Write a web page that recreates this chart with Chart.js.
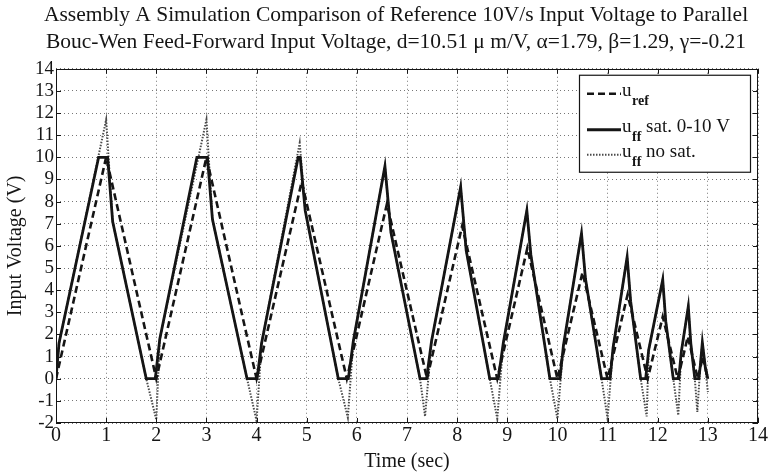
<!DOCTYPE html>
<html>
<head>
<meta charset="utf-8">
<script src="https://cdn.jsdelivr.net/npm/chart.js@4.4.1/dist/chart.umd.min.js"></script>
<style>
html,body{margin:0;padding:0;background:#fff;}
#wrap{width:770px;height:475px;}
</style>
</head>
<body>
<div id="wrap"><canvas id="c" width="770" height="475"></canvas></div>
<script>
// ---- Data ----
const titleLines = [
  "Assembly A Simulation Comparison of Reference 10V/s Input Voltage to Parallel",
  "Bouc-Wen Feed-Forward Input Voltage, d=10.51 \u03bc m/V, \u03b1=1.79, \u03b2=1.29, \u03b3=-0.21"
];
const xAxisTitle = "Time (sec)";
const yAxisTitle = "Input Voltage (V)";
const xTicks = [0,1,2,3,4,5,6,7,8,9,10,11,12,13,14];
const yTicks = [-2,-1,0,1,2,3,4,5,6,7,8,9,10,11,12,13,14];

// u_ref (dashed)
const refT = [0,1,2,3,4,4.9,5.8,6.6,7.4,8.1,8.8,9.4,10,10.5,11,11.4,11.8,12.1,12.4,12.6,12.8,12.9,13];
const refV = [0,10,0,10,0,8.9,0,7.9,0,6.9,0,5.9,0,4.8,0,3.8,0,2.8,0,1.9,0,1.0,0];

// u_ff sat. 0-10 V (solid)
const ffSatT = [0,0.06,0.85,1.03,1.13,1.8,1.98,2.07,2.81,3.02,3.12,3.81,4.01,4.1,4.83,4.87,4.97,5.63,5.83,5.93,6.56,6.68,7.26,7.39,7.49,8.07,8.18,8.65,8.82,8.92,9.39,9.47,9.85,10.05,10.12,10.48,10.56,10.88,11.05,11.11,11.39,11.46,11.66,11.76,11.82,12.10,12.16,12.31,12.42,12.47,12.61,12.66,12.74,12.82,12.85,12.89,12.95,13.0];
const ffSatV = [0,1.6,10,10,7.1,0,0,1.8,10,10,7.2,0,0,1.6,10,10,7.6,0,0,1.7,9.6,6.6,0,0,1.7,8.66,5.8,0,0,1.6,7.6,5.6,0,0,1.5,6.57,4.5,0,0,1.4,5.5,3.5,0,0,1.3,4.47,2.6,0,0,1.2,3.26,1.6,0,0,0.6,1.64,0.5,0];

// u_ff no sat. (dotted)
const ffNoSatT = [0,0.06,1.0,1.13,1.8,2.0,2.07,3.0,3.12,3.81,4.0,4.1,4.86,4.97,5.63,5.82,5.93,6.56,6.68,7.26,7.36,7.49,8.07,8.18,8.65,8.8,8.92,9.39,9.47,9.85,10.0,10.12,10.48,10.56,10.88,11.0,11.11,11.39,11.46,11.66,11.78,11.82,12.10,12.16,12.31,12.41,12.47,12.61,12.66,12.74,12.79,12.85,12.89,12.95,13.0];
const ffNoSatV = [0,1.6,11.7,7.1,0,-1.85,1.8,11.7,7.2,0,-1.9,1.6,10.65,7.6,0,-1.75,1.7,9.6,6.6,0,-1.7,1.7,8.66,5.8,0,-1.8,1.6,7.6,5.6,0,-1.8,1.5,6.57,4.5,0,-1.8,1.4,5.5,3.5,0,-1.7,1.3,4.47,2.6,0,-1.65,1.2,3.26,1.6,0,-1.5,0.6,1.64,0.5,-0.6];

// legend labels: [main, subscript, suffix]
const legendItems = [
  ["u", "ref", ""],
  ["u", "ff", " sat. 0-10 V"],
  ["u", "ff", " no sat."]
];

const pts = (t, v) => t.map((x, i) => ({x: x, y: v[i]}));
const FONT = "'Liberation Serif', 'Times New Roman', serif";
const INK = "#151515";

const styles = [
  {dash: [7, 4], width: 2.6, color: INK},
  {dash: [], width: 2.8, color: INK},
  {dash: [1.5, 1.5], width: 2.0, color: "#4a4a4a"}
];

const matlabPlugin = {
  id: "matlabDeco",
  afterLayout(chart) {
    // the reference title is centred slightly right of the canvas centre
    if (chart.titleBlock) { chart.titleBlock.left += 30; }
  },
  afterDatasetsDraw(chart) {
    const ctx = chart.ctx;
    const a = chart.chartArea;
    const xs = chart.scales.x, ys = chart.scales.y;
    ctx.save();
    // box
    ctx.strokeStyle = INK;
    ctx.lineWidth = 1;
    ctx.setLineDash([]);
    ctx.strokeRect(Math.round(a.left) + 0.5, Math.round(a.top) + 0.5,
                   Math.round(a.right - a.left) - 1, Math.round(a.bottom - a.top) - 1);
    // inward ticks
    const L = 5;
    ctx.beginPath();
    xTicks.forEach(v => {
      const px = Math.round(xs.getPixelForValue(v)) + 0.5;
      ctx.moveTo(px, a.bottom); ctx.lineTo(px, a.bottom - L);
      ctx.moveTo(px, a.top); ctx.lineTo(px, a.top + L);
    });
    yTicks.forEach(v => {
      const py = Math.round(ys.getPixelForValue(v)) + 0.5;
      ctx.moveTo(a.left, py); ctx.lineTo(a.left + L, py);
      ctx.moveTo(a.right, py); ctx.lineTo(a.right - L, py);
    });
    ctx.stroke();

    // legend
    const bx = a.right - 179, by = a.top + 6, bw = 171, bh = 97;
    ctx.fillStyle = "#fff";
    ctx.fillRect(bx, by, bw, bh);
    ctx.strokeStyle = INK;
    ctx.lineWidth = 1.2;
    ctx.strokeRect(bx + 0.5, by + 0.5, bw, bh);
    const rowsY = [by + 19, by + 55, by + 80];
    legendItems.forEach((it, i) => {
      const st = styles[i];
      const y = rowsY[i];
      ctx.beginPath();
      ctx.setLineDash(st.dash);
      ctx.lineWidth = st.width;
      ctx.strokeStyle = st.color;
      ctx.moveTo(bx + 8, y); ctx.lineTo(bx + 42, y);
      ctx.stroke();
      ctx.setLineDash([]);
      ctx.fillStyle = INK;
      ctx.textBaseline = "alphabetic";
      ctx.textAlign = "left";
      let x = bx + 43;
      ctx.font = "19px " + FONT;
      ctx.fillText(it[0], x, y + 2);
      x += ctx.measureText(it[0]).width + 0.5;
      ctx.font = "bold 14px " + FONT;
      ctx.fillText(it[1], x, y + 11);
      x += ctx.measureText(it[1]).width;
      ctx.font = "19px " + FONT;
      if (it[2]) ctx.fillText(it[2], x, y + 2);
    });
    ctx.restore();
  }
};

new Chart(document.getElementById("c"), {
  type: "scatter",
  data: {
    datasets: [
      {label: "u_ff sat. 0-10 V", data: pts(ffSatT, ffSatV), showLine: true, borderColor: styles[1].color,
       borderWidth: styles[1].width, borderDash: styles[1].dash, pointRadius: 0, order: 1, tension: 0},
      {label: "u_ref", data: pts(refT, refV), showLine: true, borderColor: styles[0].color,
       borderWidth: styles[0].width, borderDash: styles[0].dash, pointRadius: 0, order: 2, tension: 0},
      {label: "u_ff no sat.", data: pts(ffNoSatT, ffNoSatV), showLine: true, borderColor: styles[2].color,
       borderWidth: styles[2].width, borderDash: styles[2].dash, pointRadius: 0, order: 3, tension: 0}
    ]
  },
  options: {
    responsive: false,
    animation: false,
    devicePixelRatio: 1,
    layout: {padding: {left: 4, right: 12, top: 0, bottom: 0}},
    plugins: {
      legend: {display: false},
      tooltip: {enabled: false},
      title: {
        display: true,
        text: titleLines,
        color: INK,
        font: {family: FONT, size: 21.5, weight: "normal", lineHeight: 1.25},
        padding: {top: 2, bottom: 13}
      }
    },
    scales: {
      x: {
        type: "linear", min: 0, max: 14,
        afterBuildTicks: s => { s.ticks = xTicks.map(v => ({value: v})); },
        afterFit: s => { s.height = 52; },
        ticks: {color: INK, font: {family: FONT, size: 20}, padding: 1, maxRotation: 0, autoSkip: false},
        grid: {color: "#777", lineWidth: 1, drawTicks: false},
        border: {display: false, dash: [1, 3]},
        title: {display: true, text: xAxisTitle, color: INK, font: {family: FONT, size: 20}, padding: {top: 0, bottom: 1}}
      },
      y: {
        type: "linear", min: -2, max: 14,
        afterBuildTicks: s => { s.ticks = yTicks.map(v => ({value: v})); },
        afterFit: s => { s.width = 52; },
        ticks: {color: INK, font: {family: FONT, size: 19}, padding: 2, autoSkip: false},
        grid: {color: "#777", lineWidth: 1, drawTicks: false},
        border: {display: false, dash: [1, 3]},
        title: {display: true, text: yAxisTitle, color: INK, font: {family: FONT, size: 20}, padding: {top: 0, bottom: 0}}
      }
    }
  },
  plugins: [matlabPlugin]
});
</script>
</body>
</html>
